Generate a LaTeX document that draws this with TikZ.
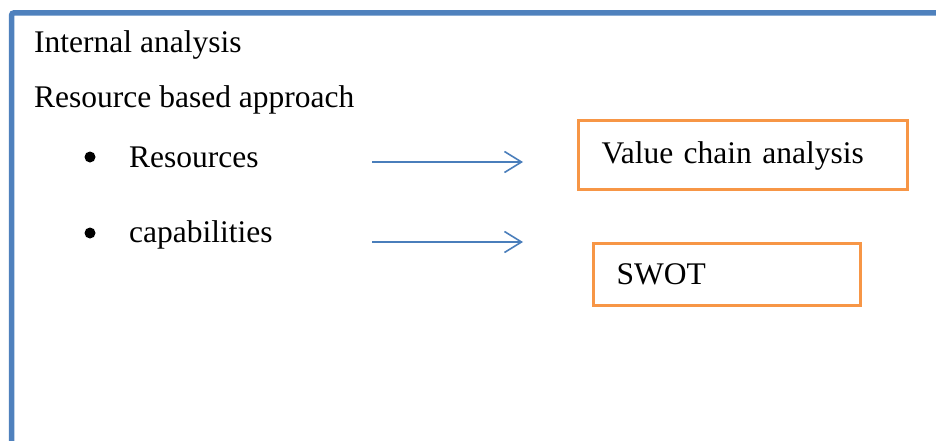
\documentclass[tikz,border=0pt]{standalone}
\usepackage{fontspec}
\setmainfont{Liberation Serif}
\usetikzlibrary{arrows.meta}
\definecolor{frameblue}{HTML}{4F81BD}
\definecolor{boxorange}{HTML}{F79646}
\definecolor{arrowblue}{HTML}{4A7EBB}

\begin{document}
\begin{tikzpicture}[x=1pt,y=-1pt,
  txt/.style={anchor=base west, inner sep=0pt, font=\fontsize{31.5}{36}\selectfont},
  dot/.style={circle, fill=black, inner sep=0pt, minimum size=11pt},
  framestyle/.style={draw=frameblue, line width=5.5pt, rounded corners=2pt},
  obox/.style={draw=boxorange, line width=3pt, rectangle, anchor=north west,
    align=left, inner xsep=23pt, inner ysep=0pt,
    font=\fontsize{31.5}{36}\selectfont},
  link/.style={draw=arrowblue, line width=1.6pt,
    -{Straight Barb[length=17pt, width=21pt, line width=1.6pt]}}]

% page area
\useasboundingbox (0,0) rectangle (936,441);
\clip (0,0) rectangle (936,441);

% outer frame, running past the right and bottom edges
\draw[framestyle] (11.7,480) |- (980,13);

% headings
\node[txt] (head) at (34,53) {Internal analysis};
\node[txt] (rba) at (34,107) {Resource based approach};

% bullet list
\node[dot] (b1) at (90,157) {};
\node[txt] (res) at (129,167) {Resources};
\node[dot] (b2) at (90,233) {};
\node[txt] (cap) at (129,242) {capabilities};

% result boxes
\node[obox, text width=283pt, minimum height=69pt, text height=22pt, text depth=5pt]
  (vca) at (577,119) {Value chain analysis};
\node[obox, text width=221pt, minimum height=62pt, text height=22pt, text depth=2pt]
  (swot) at (592,242) {SWOT};

% arrows
\coordinate (r1) at (372,162);
\coordinate (r2) at (523,162);
\coordinate (c1) at (372,242);
\coordinate (c2) at (523,242);
\draw[link] (r1) -- (r2);
\draw[link] (c1) -- (c2);
\end{tikzpicture}
\end{document}
